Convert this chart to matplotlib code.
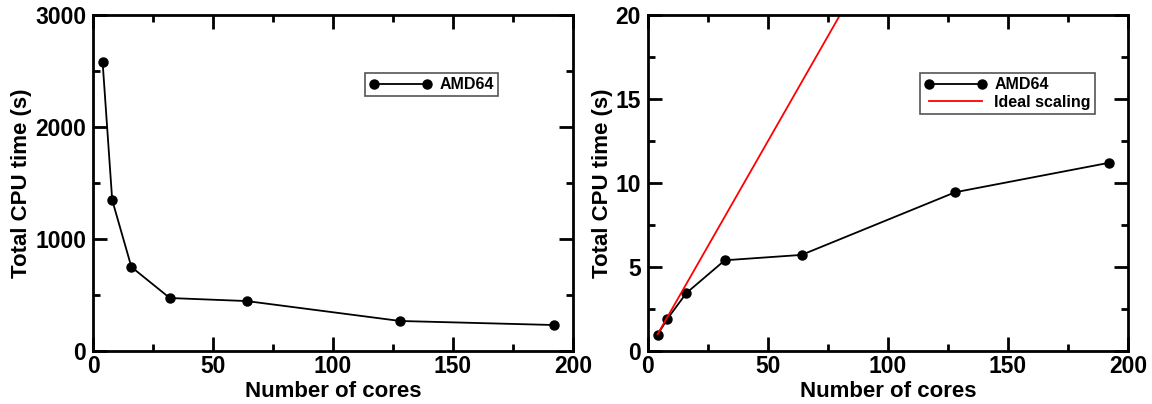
import matplotlib
matplotlib.use('Agg')
import matplotlib.pyplot as plt
from matplotlib.ticker import MultipleLocator

# data
cores = [4, 8, 16, 32, 64, 128, 192]
cpu_time = [2580, 1348, 750, 473, 446, 268, 232]
speedup = [0.97, 1.9, 3.45, 5.4, 5.72, 9.45, 11.2]
ideal_cores = [4, 192]
ideal_speedup = [1, 48]

plt.rcParams['font.family'] = ['Liberation Sans', 'DejaVu Sans']
plt.rcParams['font.weight'] = 'bold'

fig = plt.figure(figsize=(11.52, 4.04), dpi=100)
W, H = 1152.0, 404.0
ax1 = fig.add_axes([93 / W, 1 - 351 / H, 480 / W, 336 / H])
ax2 = fig.add_axes([648 / W, 1 - 351 / H, 480 / W, 336 / H])


def style(ax, ymaj, ymin):
    ax.set_xlim(0, 200)
    ax.xaxis.set_major_locator(MultipleLocator(50))
    ax.xaxis.set_minor_locator(MultipleLocator(25))
    ax.yaxis.set_major_locator(MultipleLocator(ymaj))
    ax.yaxis.set_minor_locator(MultipleLocator(ymin))
    for s in ax.spines.values():
        s.set_linewidth(2)
    ax.tick_params(which='both', direction='in', top=True, right=True, width=2)
    ax.tick_params(which='major', length=10, labelsize=16.5, pad=5)
    ax.tick_params(which='minor', length=5)
    ax.tick_params(axis='x', which='major', pad=3)
    ax.set_xlabel('Number of cores', fontsize=16, fontweight='bold', labelpad=2)
    ax.set_ylabel('Total CPU time (s)', fontsize=16, fontweight='bold', labelpad=2)


def legend(ax):
    leg = ax.legend(loc='upper left', bbox_to_anchor=(0.567, 0.827), numpoints=2,
                    fancybox=False, framealpha=1, handlelength=3.9,
                    prop={'size': 11.5, 'weight': 'bold'}, borderpad=0.25,
                    labelspacing=0.15, handletextpad=0.5, borderaxespad=0)
    leg.get_frame().set_edgecolor('#555555')
    leg.get_frame().set_linewidth(1.2)


# left panel: absolute time
ax1.plot(cores, cpu_time, '-o', color='black', lw=1.3, ms=6.5, label='AMD64')
ax1.set_ylim(0, 3000)
style(ax1, 1000, 500)
legend(ax1)

# right panel: speedup vs ideal
ax2.plot(cores, speedup, '-o', color='black', lw=1.3, ms=6.5, label='AMD64')
ax2.plot(ideal_cores, ideal_speedup, '-', color='red', lw=1.3, label='Ideal scaling')
ax2.set_ylim(0, 20)
style(ax2, 5, 2.5)
legend(ax2)

fig.savefig('out.png', dpi=100)
